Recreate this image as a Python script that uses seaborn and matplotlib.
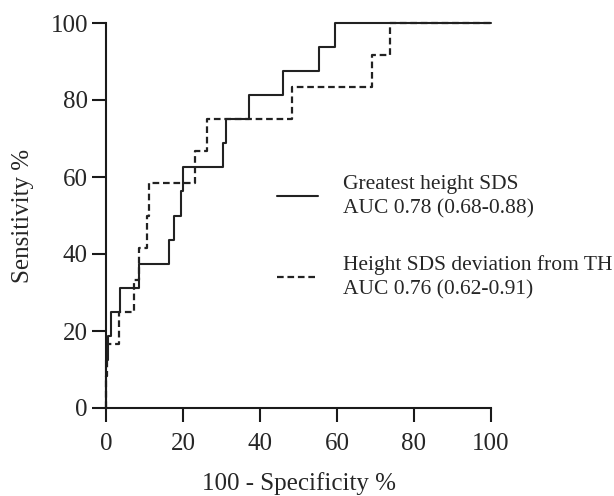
import numpy as np
import pandas as pd
import matplotlib
matplotlib.use("Agg")
import matplotlib.pyplot as plt
import seaborn as sns

# ROC corner points (100 - specificity %, sensitivity %)
fpr_height = [0, 0, 0.5, 1.3, 3.6, 8.6, 16.4, 17.7, 19.5, 20.0, 30.4, 31.2, 37.1, 46.0, 55.3, 59.5, 100]
tpr_height = [0, 12.5, 18.75, 25, 31.25, 37.5, 43.75, 50, 56.25, 62.5, 68.75, 75, 81.25, 87.5, 93.75, 100, 100]

fpr_th = [0, 0, 0.3, 3.4, 7.3, 8.6, 10.6, 11.2, 23.1, 26.2, 48.3, 69.1, 73.8, 100]
tpr_th = [0, 8.33, 16.67, 25, 33.33, 41.67, 50, 58.33, 66.67, 75, 83.33, 91.67, 100, 100]

label_height = "Greatest height SDS\nAUC 0.78 (0.68-0.88)"
label_th = "Height SDS deviation from TH\nAUC 0.76 (0.62-0.91)"

sns.set_style("ticks")
plt.rcParams["font.family"] = ["Liberation Serif", "DejaVu Serif"]

W, H = 614, 496
fig = plt.figure(figsize=(W / 100, H / 100), dpi=100)
ax = fig.add_axes([106 / W, 88 / H, 385 / W, 385 / H])

df_h = pd.DataFrame({"x": fpr_height, "y": tpr_height})
df_t = pd.DataFrame({"x": fpr_th, "y": tpr_th})

sns.lineplot(data=df_h, x="x", y="y", sort=False, estimator=None, ax=ax,
             drawstyle="steps-post", color="#222222", linewidth=1.5,
             label=label_height, clip_on=False)
sns.lineplot(data=df_t, x="x", y="y", sort=False, estimator=None, ax=ax,
             drawstyle="steps-post", color="#222222", linewidth=1.6,
             linestyle=(0, (3.0, 1.7)), label=label_th, clip_on=False)

ax.set_xlim(0, 100)
ax.set_ylim(0, 100)
ax.set_xticks(np.arange(0, 101, 20))
ax.set_yticks(np.arange(0, 101, 20))
sns.despine(ax=ax)
for s in ["left", "bottom"]:
    ax.spines[s].set_linewidth(1.5)
    ax.spines[s].set_color("#1a1a1a")
ax.tick_params(length=10, width=1.5, color="#1a1a1a", labelsize=18, pad=3)
ax.tick_params(axis="x", pad=8)

ax.set_xlabel("100 - Specificity %", fontsize=18, labelpad=12)
ax.set_ylabel("Sensitivity %", fontsize=18, labelpad=12)

leg = ax.legend(loc="upper left", bbox_to_anchor=(277 / W, 1 - 175 / H),
                bbox_transform=fig.transFigure, frameon=False, fontsize=15.5,
                borderpad=0, borderaxespad=0, handlelength=1.9,
                handletextpad=1.15, labelspacing=1.7)
for t in leg.get_texts():
    t.set_linespacing(1.36)

fig.savefig("out.png", dpi=100)
